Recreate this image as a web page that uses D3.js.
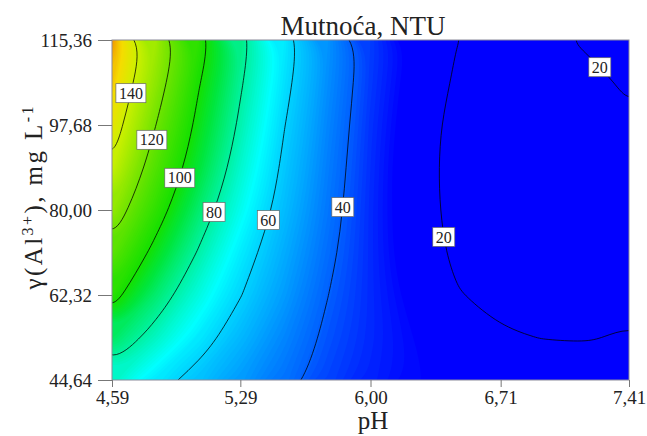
<!DOCTYPE html>
<html>
<head>
<meta charset="utf-8">
<script src="https://cdn.jsdelivr.net/npm/d3@7"></script>
<style>
  body { margin: 0; background: #fff; }
  svg text { font-family: "Liberation Serif", "Times New Roman", serif; fill: #222; }
</style>
</head>
<body>
<div id="chart"></div>
<script>
// grid of the response surface
const phCols = [4.59, 4.825, 5.06, 5.295, 5.53, 5.765, 6.00, 6.235, 6.47, 6.705, 6.94, 7.175, 7.41]
const alRows = [44.64, 53.48, 62.32, 71.16, 80.00, 88.84, 97.68, 106.52, 115.36]
// turbidity, NTU - one row per Al level (bottom to top), one value per pH column
const turbidity = [
  [75.0, 64.0, 56.5, 49.5, 43.0, 36.3, 32.0, 29.0, 27.0, 25.5, 24.5, 24.0, 24.5],
  [88.0, 76.0, 64.5, 54.8, 46.3, 38.3, 33.0, 28.5, 25.0, 21.0, 19.8, 19.5, 20.8],
  [104.7, 86.3, 72.2, 60.2, 50.0, 40.2, 33.0, 26.5, 20.5, 17.5, 16.0, 16.0, 17.5],
  [116.0, 96.7, 79.3, 64.6, 52.8, 42.1, 33.0, 24.5, 18.5, 15.5, 14.0, 13.8, 15.5],
  [128.2, 106.1, 86.4, 69.9, 55.8, 43.8, 33.0, 24.0, 17.5, 14.0, 12.8, 13.0, 15.0],
  [139.0, 113.6, 92.9, 74.1, 58.1, 45.0, 33.5, 23.5, 17.5, 14.5, 13.0, 13.5, 16.0],
  [146.7, 120.5, 97.2, 77.8, 60.3, 46.3, 34.0, 24.5, 17.5, 15.0, 14.5, 16.0, 18.5],
  [153.0, 127.0, 101.1, 80.8, 62.8, 47.7, 35.0, 25.5, 19.0, 16.5, 15.5, 17.0, 21.5],
  [159.0, 131.4, 105.6, 83.4, 64.6, 48.8, 35.5, 27.0, 20.2, 17.5, 17.5, 21.3, 25.0]
]
const lineLevels = [20, 40, 60, 80, 100, 120, 140]
const phTicks = [4.59, 5.29, 6.00, 6.71, 7.41]
const alTicks = [44.64, 62.32, 80.00, 97.68, 115.36]

// where the contour labels sit (Al level on the line, which crossing)
const labelSpots = [
  {level: 140, al: 104.3, pick: 'first'},
  {level: 120, al: 94.6, pick: 'first'},
  {level: 100, al: 86.7, pick: 'first'},
  {level: 80, al: 79.6, pick: 'first'},
  {level: 60, al: 77.9, pick: 'first'},
  {level: 40, al: 80.6, pick: 'first'},
  {level: 20, al: 74.4, pick: 'first'},
  {level: 20, al: 109.7, pick: 'last'}
]

// colour map
const colorStops = [28, 40, 52, 60, 68, 80, 92, 100, 120, 140, 150, 160]
const colorRange = ['#0000ff', '#0060ff', '#00a8ff', '#00d2ff', '#00ffff', '#00f2a0',
  '#00e63c', '#14e000', '#6ee400', '#cdf000', '#f5dc00', '#f08c00']

const W = 647, H = 436
const margin = {top: 40, left: 112, right: 18, bottom: 56}
const plotW = W - margin.left - margin.right,
  plotH = H - margin.top - margin.bottom

const x = d3.scaleLinear().domain([4.59, 7.41]).range([margin.left, margin.left + plotW])
const y = d3.scaleLinear().domain([44.64, 115.36]).range([margin.top + plotH, margin.top])
const color = d3.scaleLinear().domain(colorStops).range(colorRange).clamp(true)

const nx = phCols.length, ny = alRows.length
const values = turbidity.flat()
// d3.contours puts sample i at i + 0.5
const gx = d3.scaleLinear().domain([0.5, nx - 0.5]).range([x(phCols[0]), x(phCols[nx - 1])])
const gy = d3.scaleLinear().domain([0.5, ny - 0.5]).range([y(alRows[0]), y(alRows[ny - 1])])

function toPixels (ring) {
  let pts = []
  ring.forEach(p => {
    let q = [gx(p[0]), gy(p[1])]
    let last = pts[pts.length - 1]
    if (!last || Math.abs(last[0] - q[0]) > 0.05 || Math.abs(last[1] - q[1]) > 0.05) pts.push(q)
  })
  let f = pts[0], l = pts[pts.length - 1]
  if (pts.length > 1 && Math.abs(f[0] - l[0]) < 0.05 && Math.abs(f[1] - l[1]) < 0.05) pts.pop()
  return pts
}
const ringLine = d3.line().curve(d3.curveBasisClosed)
function multiPath (coords) {
  return coords.map(poly => poly.map(r => ringLine(toPixels(r))).join('')).join('')
}

const svg = d3.select('#chart').append('svg').attr('width', W).attr('height', H)

svg.append('defs').append('clipPath').attr('id', 'plot-clip')
  .append('rect').attr('x', margin.left).attr('y', margin.top).attr('width', plotW).attr('height', plotH)

let plot = svg.append('g').attr('clip-path', 'url(#plot-clip)')

// filled surface: stacked bands, one per unit
const fillLevels = d3.range(10.5, 166, 1)
const bands = d3.contours().size([nx, ny]).thresholds(fillLevels)(values)
plot.append('rect').attr('x', margin.left).attr('y', margin.top).attr('width', plotW).attr('height', plotH)
  .attr('fill', color(10))
plot.selectAll('.band').data(bands).enter().append('path').classed('band', true)
  .attr('d', d => multiPath(d.coordinates))
  .attr('fill', d => color(d.value + 0.5))
  .attr('fill-rule', 'evenodd')

// contour lines
const lines = d3.contours().size([nx, ny]).thresholds(lineLevels)(values)
plot.selectAll('.iso').data(lines).enter().append('path').classed('iso', true)
  .attr('d', d => multiPath(d.coordinates))
  .attr('fill', 'none').attr('stroke', '#000').attr('stroke-opacity', 0.75).attr('stroke-width', 1)

// frame
svg.append('rect').attr('x', margin.left).attr('y', margin.top).attr('width', plotW).attr('height', plotH)
  .attr('fill', 'none').attr('stroke', '#8a8a9a').attr('stroke-width', 1)

// contour labels
function crossing (level, al, pick) {
  let c = lines.find(d => d.value === level)
  let yy = y(al), xs = []
  c.coordinates.forEach(poly => poly.forEach(r => {
    let pts = toPixels(r)
    pts.forEach((p, i) => {
      let q = pts[(i + 1) % pts.length]
      if (p[1] === q[1]) return
      if ((p[1] - yy) * (q[1] - yy) <= 0) {
        let xx = p[0] + (yy - p[1]) / (q[1] - p[1]) * (q[0] - p[0])
        if (xx > margin.left + 2 && xx < margin.left + plotW - 2) xs.push(xx)
      }
    })
  }))
  if (!xs.length) return null
  return [pick === 'last' ? d3.max(xs) : d3.min(xs), yy]
}

let labels = svg.selectAll('.clabel').data(labelSpots).enter().append('g').classed('clabel', true)
  .attr('transform', d => {
    let p = crossing(d.level, d.al, d.pick) || [0, 0]
    return `translate(${p[0]},${p[1]})`
  })
labels.append('text').text(d => d.level)
  .attr('text-anchor', 'middle').attr('dy', '0.35em').style('font-size', '16px')
labels.insert('rect', 'text')
  .each(function () {
    let bb = this.parentNode.querySelector('text').getBBox()
    d3.select(this).attr('x', -bb.width / 2 - 3).attr('y', -9.5)
      .attr('width', bb.width + 6).attr('height', 19)
  })
  .attr('fill', '#fff').attr('stroke', '#666').attr('stroke-width', 0.7)

// axes
const fmt = d => d.toFixed(2).replace('.', ',')
let xAxis = svg.append('g').classed('axis', true)
  .attr('transform', `translate(0,${margin.top + plotH})`)
  .call(d3.axisBottom(x).tickValues(phTicks).tickSize(7).tickPadding(4).tickFormat(fmt))
let yAxis = svg.append('g').classed('axis', true)
  .attr('transform', `translate(${margin.left},0)`)
  .call(d3.axisLeft(y).tickValues(alTicks).tickSize(14).tickPadding(6).tickFormat(fmt))
svg.selectAll('.axis').attr('font-family', null).attr('font-size', null)
svg.selectAll('.axis .domain').remove()
svg.selectAll('.axis line').attr('stroke', '#777')
svg.selectAll('.axis text').style('font-size', '19px').attr('fill', '#222')

// titles
svg.append('text').text('Mutnoća, NTU')
  .attr('x', 363).attr('y', 35).attr('text-anchor', 'middle').style('font-size', '27px')

svg.append('text').text('pH')
  .attr('x', 373).attr('y', 429).attr('text-anchor', 'middle').style('font-size', '25px')

let yTitle = svg.append('text')
  .attr('transform', 'translate(42,198) rotate(-90)')
  .attr('text-anchor', 'middle').style('font-size', '25px')
  .attr('textLength', 183).attr('lengthAdjust', 'spacing')
yTitle.append('tspan').text('γ(Al')
yTitle.append('tspan').text('3+').attr('dy', -9).style('font-size', '16px')
yTitle.append('tspan').text('), mg L').attr('dy', 9)
yTitle.append('tspan').text('-1').attr('dy', -9).style('font-size', '16px')
</script>
</body>
</html>
